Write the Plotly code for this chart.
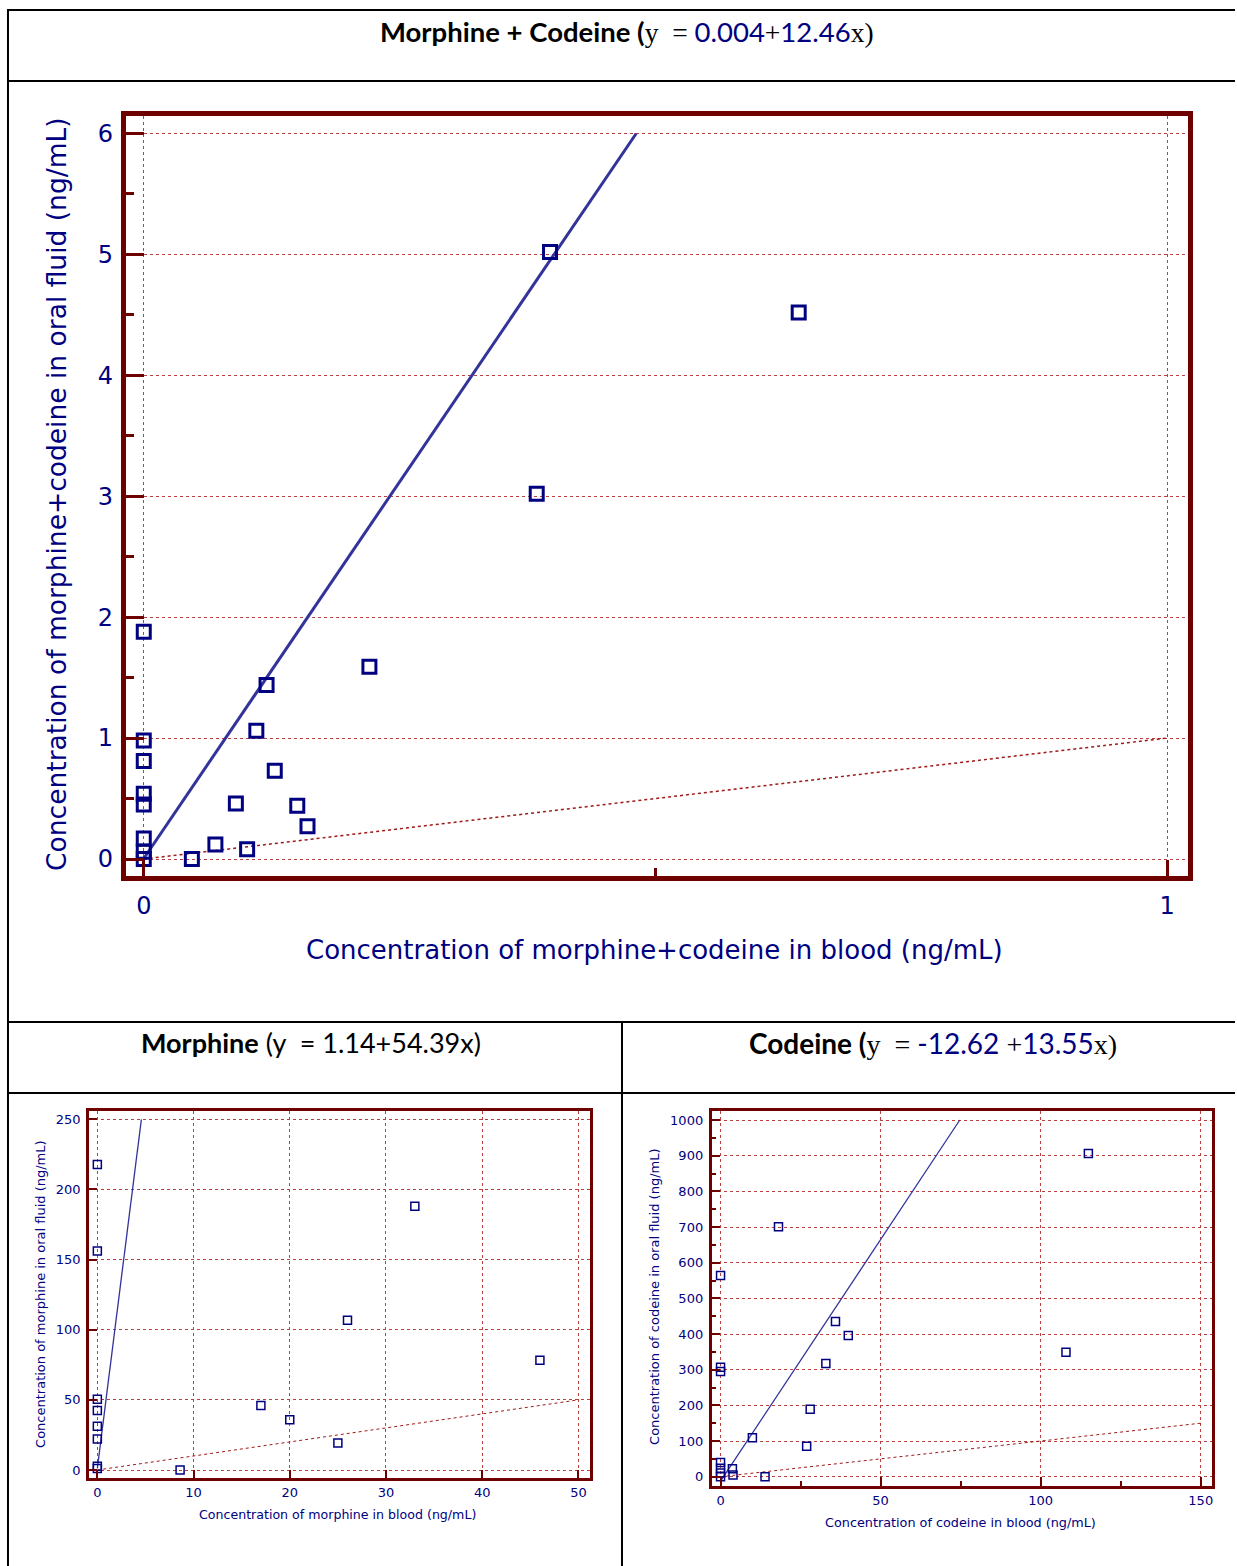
import plotly.graph_objects as go

W, H = 1237, 1566

# ---------------- data ----------------
# Morphine + Codeine (blood vs oral fluid, ng/mL)
mc_blood = [0, 0, 0, 0, 0, 0, 0, 0, 0.047, 0.070, 0.090, 0.101, 0.110, 0.120,
            0.128, 0.150, 0.160, 0.2205, 0.384, 0.397, 0.640]
mc_oral = [1.88, 0.98, 0.81, 0.54, 0.45, 0.17, 0.06, 0.0, 0.0, 0.12, 0.46, 0.08,
           1.06, 1.44, 0.73, 0.44, 0.27, 1.59, 3.02, 5.02, 4.52]
mc_fit = (0.004, 12.46)

# Morphine
m_blood = [0, 0, 0, 0, 0, 0, 0, 0, 8.6, 17.0, 20.0, 25.0, 26.0, 33.0, 46.0]
m_oral = [217.7, 156.1, 50.4, 42.5, 31.1, 22.1, 2.6, 1.0, 0.0, 45.9, 35.9, 19.2,
          106.7, 188.0, 78.2]
m_fit = (1.14, 54.39)

# Codeine
c_blood = [0, 0, 0, 0, 0, 0, 0, 3.7, 3.9, 9.95, 13.9, 18.1, 26.9, 28.0, 32.9,
           35.9, 39.9, 107.9, 114.9]
c_oral = [564, 307, 295, 40, 24, 10, 0, 22, 5, 109, 0, 701, 85, 189, 317, 435,
          396, 349, 906]
c_fit = (-12.62, 13.55)

# axis ticks
mc_xticks = [0, 1]
mc_xminor = [0.5]
mc_yticks = [0, 1, 2, 3, 4, 5, 6]
mc_yminor = [0.5, 1.5, 2.5, 3.5, 4.5, 5.5]
m_xticks = [0, 10, 20, 30, 40, 50]
m_yticks = [0, 50, 100, 150, 200, 250]
c_xticks = [0, 50, 100, 150]
c_xminor = [25, 75, 125]
c_yticks = [0, 100, 200, 300, 400, 500, 600, 700, 800, 900, 1000]
c_yminor = [50, 150, 250, 350, 450, 550, 650, 750, 850, 950]

# ---------------- styles ----------------
NAVY = "#000080"
FRAME = "#6E0000"
GRID = "#B84040"
FIT = "#33339A"
IDENT = "#A01818"
AXFONT = "DejaVu Sans"
TFONT = "Lato"
SERIF = "Liberation Serif"


def xdom(l, r):
    return [l / W, r / W]


def ydom(t, b):
    return [1 - b / H, 1 - t / H]


fig = go.Figure()


def add_panel(xs, ys, fit, ytop, xid, yid, msize, mlw, fitw, idw):
    a, b = fit
    xend = (ytop - a) / b
    xmax_ident = max(xs_ident[xid])
    fig.add_trace(go.Scatter(x=[0, xmax_ident], y=[0, xmax_ident], mode="lines",
                             line=dict(color=IDENT, width=idw, dash="dot"),
                             xaxis=xid, yaxis=yid, hoverinfo="skip"))
    fig.add_trace(go.Scatter(x=[0, xend], y=[a, a + b * xend], mode="lines",
                             line=dict(color=FIT, width=fitw),
                             xaxis=xid, yaxis=yid, hoverinfo="skip"))
    fig.add_trace(go.Scatter(x=xs, y=ys, mode="markers",
                             marker=dict(symbol="square-open", size=msize, color=NAVY,
                                         line=dict(width=mlw, color=NAVY)),
                             xaxis=xid, yaxis=yid))


xs_ident = {"x": mc_xticks, "x2": m_xticks, "x3": c_xticks}

add_panel(mc_blood, mc_oral, mc_fit, mc_yticks[-1], "x", "y", 13, 3, 3, 1.5)
add_panel(m_blood, m_oral, m_fit, m_yticks[-1], "x2", "y2", 8, 1.5, 1.3, 1)
add_panel(c_blood, c_oral, c_fit, c_yticks[-1], "x3", "y3", 8, 1.5, 1.3, 1)


def axis(domain, rng, tickvals, anchor, fs, lw, ticklen, tickw, minor=None,
         minorlen=0, standoff=None):
    d = dict(domain=domain, range=rng, tickmode="array", tickvals=tickvals,
             anchor=anchor, ticks="inside", ticklen=ticklen, tickwidth=tickw,
             tickcolor=FRAME, showgrid=True, gridcolor=GRID, griddash="dot",
             gridwidth=1, showline=True, linecolor=FRAME, linewidth=lw,
             mirror=True, zeroline=False,
             tickfont=dict(family=AXFONT, size=fs, color=NAVY))
    if minor is not None:
        d["minor"] = dict(tickmode="array", tickvals=minor, ticks="inside",
                          ticklen=minorlen, tickwidth=tickw, tickcolor=FRAME,
                          showgrid=False)
    if standoff is not None:
        d["ticklabelstandoff"] = standoff
    return d


layout = dict(
    width=W, height=H, margin=dict(l=0, r=0, t=0, b=0),
    paper_bgcolor="white", plot_bgcolor="white", showlegend=False,
    xaxis=axis(xdom(126, 1190), [-0.01756, 1.02049], mc_xticks, "y", 24, 5, 16, 3,
               mc_xminor, 8, 4),
    yaxis=axis(ydom(116, 876), [-0.1406, 6.1447], mc_yticks, "x", 24, 5, 18, 3,
               mc_yminor, 8, 3),
    xaxis2=axis(xdom(89, 591), [-0.882, 51.21], m_xticks, "y2", 13, 2.5, 8, 2,
                standoff=1),
    yaxis2=axis(ydom(1110.7, 1477.7), [-5.49, 256.13], m_yticks, "x2", 13, 2.5, 8, 2,
                standoff=3),
    xaxis3=axis(xdom(712.7, 1213.5), [-2.81, 153.37], c_xticks, "y3", 13, 2.5, 9, 2,
                c_xminor, 5, 1),
    yaxis3=axis(ydom(1110.7, 1486), [-26.1, 1026.1], c_yticks, "x3", 13, 2.5, 9, 2,
                c_yminor, 5, 3),
)
fig.update_layout(**layout)

# ---------------- table lines ----------------
def hline(y, x0, x1, w=2):
    fig.add_shape(type="line", xref="paper", yref="paper", x0=x0 / W, x1=x1 / W,
                  y0=1 - y / H, y1=1 - y / H, line=dict(color="black", width=w))


def vline(x, y0, y1, w=2):
    fig.add_shape(type="line", xref="paper", yref="paper", x0=x / W, x1=x / W,
                  y0=1 - y0 / H, y1=1 - y1 / H, line=dict(color="black", width=w))


hline(10, 8, W)
hline(81, 8, W)
hline(1022, 8, W)
hline(1093, 8, W)
vline(8, 9, H)
vline(623, 1022, H)

# ---------------- titles ----------------
def ann(text, x, y, size, family=TFONT, color="black", angle=0):
    fig.add_annotation(text=text, x=x / W, y=1 - y / H, xref="paper", yref="paper",
                       showarrow=False, xanchor="center", yanchor="middle",
                       textangle=angle, font=dict(family=family, size=size, color=color))


def serif(t):
    return f'<span style="font-family:{SERIF}">{t}</span>'


def blue(t):
    return f'<span style="color:{NAVY}">{t}</span>'


ann("<b>Morphine + Codeine (</b>" + serif("y&nbsp;&nbsp;=&nbsp;") + blue("0.004")
    + serif("+") + blue("12.46") + serif("x)"), 628, 31, 27.5)
ann("<b>Morphine</b> (y&nbsp;&nbsp;= 1.14+54.39x)", 312, 1042, 27)
ann("<b>Codeine (</b>" + serif("y&nbsp;&nbsp;=&nbsp;") + blue("-12.62&nbsp;")
    + serif("+") + blue("13.55") + serif("x)"), 935, 1043, 28)

# axis titles
ann("Concentration of morphine+codeine in blood (ng/mL)", 656, 950, 26, AXFONT, NAVY)
ann("Concentration of morphine+codeine in oral fluid (ng/mL)", 57, 494, 26.5, AXFONT, NAVY, -90)
ann("Concentration of morphine in blood (ng/mL)", 338, 1514, 12.6, AXFONT, NAVY)
ann("Concentration of morphine in oral fluid (ng/mL)", 40, 1294, 13, AXFONT, NAVY, -90)
ann("Concentration of codeine in blood (ng/mL)", 962, 1522, 12.8, AXFONT, NAVY)
ann("Concentration of codeine in oral fluid (ng/mL)", 655, 1297, 13, AXFONT, NAVY, -90)

fig.write_html("out.html", config={"displayModeBar": False},
               post_script="document.body.style.margin='0';")
